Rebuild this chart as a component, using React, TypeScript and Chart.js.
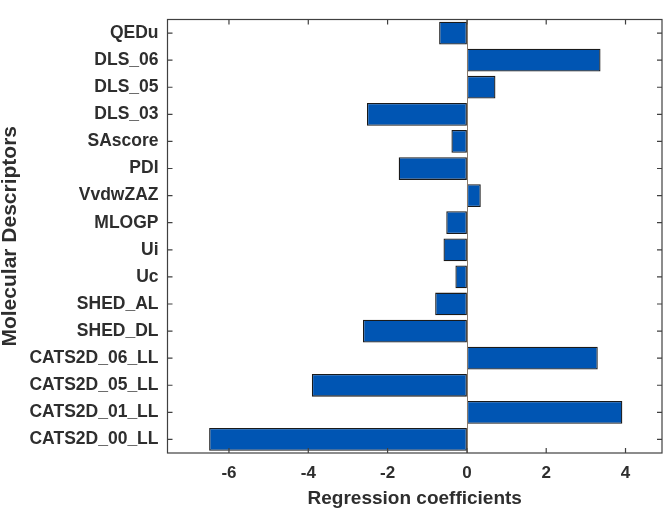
import React, { useEffect, useRef } from "react";
import { Chart, registerables } from "chart.js";

Chart.register(...registerables);

const categories = [
  "QEDu",
  "DLS_06",
  "DLS_05",
  "DLS_03",
  "SAscore",
  "PDI",
  "VvdwZAZ",
  "MLOGP",
  "Ui",
  "Uc",
  "SHED_AL",
  "SHED_DL",
  "CATS2D_06_LL",
  "CATS2D_05_LL",
  "CATS2D_01_LL",
  "CATS2D_00_LL",
];

const coefficients = [
  -0.7, 3.37, 0.72, -2.52, -0.39, -1.72, 0.35, -0.52, -0.59, -0.29, -0.8, -2.62,
  3.3, -3.91, 3.92, -6.5,
];

const xTickValues = [-6, -4, -2, 0, 2, 4];
const xMin = -7.55;
const xMax = 4.92;

const FONT = "'Liberation Sans', Arial, Helvetica, sans-serif";
const TEXT = "#2e2e2e";
const AXIS = "#404040";

const framePlugin = {
  id: "matlabFrame",
  afterDatasetsDraw(chart: any) {
    const { ctx, chartArea, scales } = chart;
    const { left, right, top, bottom } = chartArea;
    const xs = scales.x;
    const ys = scales.y;
    ctx.save();
    ctx.strokeStyle = "#8a7a6a";
    ctx.lineWidth = 1;
    const x0 = Math.round(xs.getPixelForValue(0)) + 0.5;
    ctx.beginPath();
    ctx.moveTo(x0, top);
    ctx.lineTo(x0, bottom);
    ctx.stroke();
    ctx.strokeStyle = AXIS;
    ctx.lineWidth = 1.2;
    ctx.strokeRect(left, top, right - left, bottom - top);
    const tl = 5;
    ctx.beginPath();
    xTickValues.forEach((v) => {
      const px = xs.getPixelForValue(v);
      ctx.moveTo(px, bottom);
      ctx.lineTo(px, bottom - tl);
      ctx.moveTo(px, top);
      ctx.lineTo(px, top + tl);
    });
    categories.forEach((_, i) => {
      const py = ys.getPixelForValue(i);
      ctx.moveTo(left, py);
      ctx.lineTo(left + tl, py);
      ctx.moveTo(right, py);
      ctx.lineTo(right - tl, py);
    });
    ctx.stroke();
    ctx.restore();
  },
};

export default function App() {
  const ref = useRef<HTMLCanvasElement | null>(null);

  useEffect(() => {
    if (!ref.current) return;
    const chart = new Chart(ref.current, {
      type: "bar",
      data: {
        labels: categories,
        datasets: [
          {
            data: coefficients,
            backgroundColor: "#0055b3",
            borderColor: "#1a1a1a",
            borderWidth: 1.3,
            borderSkipped: false,
            barPercentage: 0.84,
            categoryPercentage: 1,
          },
        ],
      },
      options: {
        indexAxis: "y",
        animation: false,
        responsive: true,
        maintainAspectRatio: false,
        layout: { padding: { top: 3, right: 3, left: 0, bottom: 0 } },
        plugins: {
          legend: { display: false },
          tooltip: { enabled: false },
        },
        scales: {
          x: {
            type: "linear",
            min: xMin,
            max: xMax,
            afterBuildTicks: (scale: any) => {
              scale.ticks = xTickValues.map((v) => ({ value: v }));
            },
            afterFit: (scale: any) => {
              scale.height = 59;
            },
            grid: { display: false, drawTicks: false },
            border: { display: false },
            ticks: {
              color: TEXT,
              font: { family: FONT, size: 17, weight: "bold" },
              padding: 10,
              maxRotation: 0,
            },
            title: {
              display: true,
              text: "Regression coefficients",
              color: TEXT,
              font: { family: FONT, size: 19, weight: "bold", lineHeight: 1.2 },
              padding: { top: 0, bottom: 2 },
            },
          },
          y: {
            type: "category",
            offset: true,
            afterFit: (scale: any) => {
              scale.width = 167.5;
            },
            grid: { display: false, drawTicks: false },
            border: { display: false },
            ticks: {
              color: TEXT,
              autoSkip: false,
              font: { family: FONT, size: 17.5, weight: "bold" },
              padding: 9,
            },
            title: {
              display: true,
              text: "Molecular Descriptors",
              color: TEXT,
              font: { family: FONT, size: 21, weight: "bold", lineHeight: 1 },
              padding: { top: 0, bottom: 0 },
            },
          },
        },
      },
      plugins: [framePlugin],
    } as any);
    return () => chart.destroy();
  }, []);

  return (
    <div
      style={{
        position: "absolute",
        left: 0,
        top: 0,
        width: 665,
        height: 512,
        background: "#ffffff",
      }}
    >
      <canvas ref={ref} />
    </div>
  );
}
